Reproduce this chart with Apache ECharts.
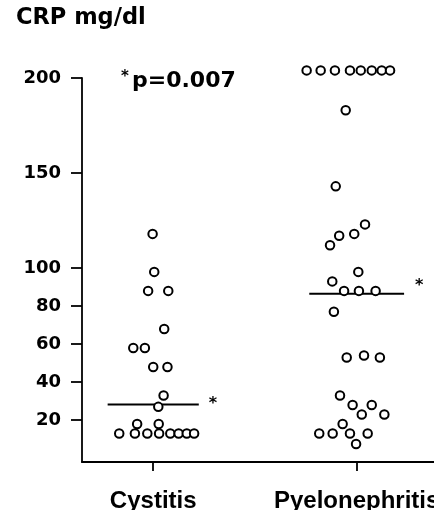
<!DOCTYPE html>
<html>
<head>
<meta charset="utf-8">
<script src="https://cdn.jsdelivr.net/npm/echarts@6/dist/echarts.min.js"></script>
<style>
  html, body { margin: 0; padding: 0; background: #fff; }
  #chart { width: 434px; height: 510px; }
</style>
</head>
<body>
<div id="chart"></div>
<script>
// ---- data ----
const categories = ['Cystitis', 'Pyelonephritis'];
const categoryPositions = [1, 2];
const yTickValues = [20, 40, 60, 80, 100, 150, 200];
// [position on category scale (with jitter), CRP mg/dl]
const cystitisPoints = [
  [0.997, 118], [1.005, 98], [0.975, 88], [1.074, 88], [1.054, 68],
  [0.902, 58], [0.959, 58], [1.000, 48], [1.070, 48], [1.051, 33],
  [1.025, 27], [0.921, 18], [1.027, 18],
  [0.833, 13], [0.910, 13], [0.971, 13], [1.029, 13], [1.084, 13],
  [1.125, 13], [1.165, 13], [1.201, 13]
];
const pyeloPoints = [
  [1.754, 204], [1.823, 204], [1.893, 204], [1.967, 204], [2.020, 204],
  [2.074, 204], [2.123, 204], [2.164, 204],
  [1.946, 183], [1.897, 143], [1.869, 112], [1.914, 117], [1.988, 118],
  [2.041, 123], [2.008, 98], [1.880, 93], [1.938, 88], [2.011, 88],
  [2.093, 88], [1.888, 77], [1.951, 53], [2.036, 54], [2.114, 53],
  [1.918, 33], [1.980, 28], [2.074, 28], [2.025, 23], [2.136, 23],
  [1.931, 18], [1.816, 13], [1.882, 13], [1.967, 13], [2.054, 13],
  [1.997, 7.5]
];
const medians = [28.3, 86.5];
const pValueText = 'p=0.007';
const yAxisTitle = 'CRP mg/dl';

// ---- styling ----
const FONT = 'DejaVu Sans';
const medianHalfWidth = [0.224, 0.233];
const starOffsets = [[2, -1], [3, -8]];

const chart = echarts.init(document.getElementById('chart'), null, { renderer: 'canvas' });

const scatterStyle = {
  type: 'scatter',
  symbol: 'circle',
  symbolSize: 8.5,
  clip: false,
  itemStyle: { color: '#fff', borderColor: '#000', borderWidth: 2, opacity: 1 },
  emphasis: { disabled: true },
  z: 3
};

const medianSeries = categoryPositions.map((c, i) => ({
  type: 'line',
  symbol: 'none',
  silent: true,
  lineStyle: { color: '#000', width: 2 },
  data: [[c - medianHalfWidth[i], medians[i]], [c + medianHalfWidth[i], medians[i]]],
  endLabel: {
    show: true,
    formatter: '*',
    color: '#000',
    fontFamily: FONT,
    fontWeight: 'bold',
    fontSize: 16,
    distance: 8,
    offset: starOffsets[i]
  },
  z: 2
}));

chart.setOption({
  animation: false,
  backgroundColor: '#fff',
  title: [
    { text: yAxisTitle, left: 16, top: 7, padding: 0,
      textStyle: { fontFamily: FONT, fontWeight: 'bold', fontSize: 22.5, color: '#000' } },
    { text: pValueText, left: 132, top: 70, padding: 0,
      textStyle: { fontFamily: FONT, fontWeight: 'bold', fontSize: 22, color: '#000' } },
    { text: '*', left: 121, top: 70, padding: 0,
      textStyle: { fontFamily: FONT, fontWeight: 'bold', fontSize: 15, color: '#000' } }
  ],
  grid: { left: 82, right: 0, top: 78, bottom: 48, containLabel: false, outerBoundsMode: 'none' },
  xAxis: {
    type: 'value',
    min: 0.65,
    max: 2.38,
    splitLine: { show: false },
    axisLine: { show: true, onZero: false, lineStyle: { color: '#000', width: 1.8 } },
    axisTick: { show: true, length: 9, customValues: categoryPositions,
      lineStyle: { color: '#000', width: 1.8 } },
    axisLabel: {
      customValues: categoryPositions,
      hideOverlap: false,
      formatter: v => categories[categoryPositions.indexOf(Math.round(v))] || '',
      color: '#000', fontFamily: 'Liberation Sans', fontWeight: 'bold', fontSize: 24, margin: 27
    }
  },
  yAxis: {
    type: 'value',
    min: -2,
    max: 200,
    splitLine: { show: false },
    axisLine: { show: true, onZero: false, lineStyle: { color: '#000', width: 1.8 } },
    axisTick: { show: true, length: 11, customValues: yTickValues,
      lineStyle: { color: '#000', width: 1.8 } },
    axisLabel: {
      customValues: yTickValues,
      color: '#000', fontFamily: FONT, fontWeight: 'bold', fontSize: 18, margin: 21
    }
  },
  series: [
    Object.assign({ name: categories[0], data: cystitisPoints }, scatterStyle),
    Object.assign({ name: categories[1], data: pyeloPoints }, scatterStyle),
    ...medianSeries
  ]
});
</script>
</body>
</html>
